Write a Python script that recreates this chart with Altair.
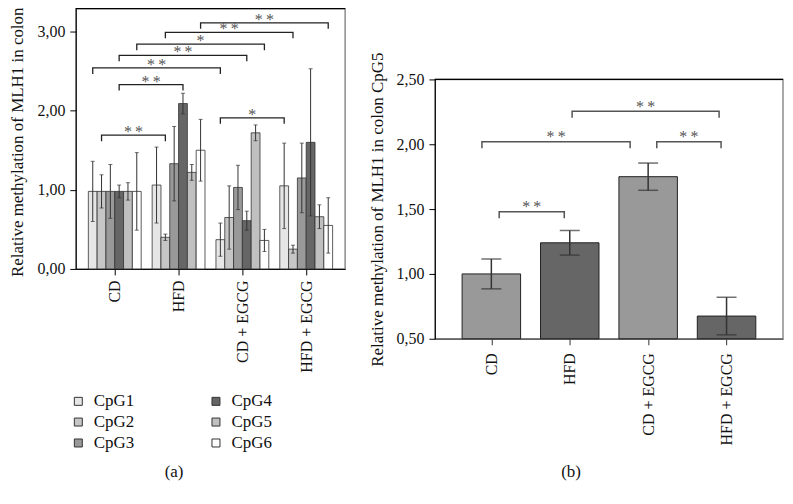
import json
import altair as alt
import pandas as pd

# ---------------- data ----------------
groups = ["CD", "HFD", "CD + EGCG", "HFD + EGCG"]
cpg_sites = ["CpG1", "CpG2", "CpG3", "CpG4", "CpG5", "CpG6"]

# panel (a): relative methylation per CpG site
mean_cd = [0.98, 0.98, 0.98, 0.98, 0.98, 0.98]
mean_hfd = [1.06, 0.40, 1.33, 2.09, 1.22, 1.50]
mean_cd_egcg = [0.37, 0.65, 1.03, 0.61, 1.72, 0.36]
mean_hfd_egcg = [1.05, 0.25, 1.15, 1.60, 0.66, 0.55]
err_cd = [0.38, 0.21, 0.34, 0.08, 0.11, 0.49]
err_hfd = [0.48, 0.04, 0.47, 0.13, 0.10, 0.39]
err_cd_egcg = [0.21, 0.40, 0.28, 0.12, 0.10, 0.14]
err_hfd_egcg = [0.54, 0.05, 0.44, 0.93, 0.15, 0.35]

# panel (a) significance brackets
sig_a_left_group = ["HFD", "HFD", "CD", "CD", "CD", "CD", "CD", "CD + EGCG"]
sig_a_right_group = ["HFD + EGCG", "HFD + EGCG", "CD + EGCG", "CD + EGCG",
                     "CD + EGCG", "HFD", "HFD", "HFD + EGCG"]
sig_a_site = ["CpG6", "CpG2", "CpG6", "CpG4", "CpG1", "CpG4", "CpG2", "CpG1"]
sig_a_height = [3.11, 2.99, 2.84, 2.70, 2.54, 2.33, 1.69, 1.91]
sig_a_label = ["**", "**", "*", "**", "**", "**", "**", "*"]

# panel (b): CpG5
mean_b = [1.00, 1.24, 1.75, 0.675]
err_b = [0.115, 0.095, 0.105, 0.145]

# panel (b) significance brackets (ends in category units)
sig_b_left = [0.10, -0.12, 1.03, 2.11]
sig_b_right = [0.93, 1.77, 2.905, 2.93]
sig_b_height = [1.48, 2.02, 2.255, 2.02]
sig_b_label = ["**", "**", "**", "**"]

# ---------------- styling ----------------
FONT = "Liberation Serif"
site_colors = ["#e6e6e6", "#c6c6c6", "#999999", "#666666", "#c0c0c0", "#ffffff"]
BAR_W = 0.138          # width of one CpG bar in category units (panel a)
TICK_A = 0.076         # bracket end depth (panel a)
TICK_B = 0.05          # bracket end depth (panel b)
HALF_B = 0.373         # half bar width (panel b)
STAR_SEP = "\u2009"


def star_text(s):
    return STAR_SEP.join(list(s))


# ---------------- tables ----------------
means_a = [mean_cd, mean_hfd, mean_cd_egcg, mean_hfd_egcg]
errs_a = [err_cd, err_hfd, err_cd_egcg, err_hfd_egcg]
rows = []
for gi, g in enumerate(groups):
    for ci, s in enumerate(cpg_sites):
        m, e = means_a[gi][ci], errs_a[gi][ci]
        xc = gi + (ci - 2.5) * BAR_W
        rows.append(dict(group=g, site=s, mean=m, lo=m - e, hi=m + e,
                         xc=xc, x0=xc - BAR_W / 2, x1=xc + BAR_W / 2))
df_a = pd.DataFrame(rows)


def pos_a(g, s):
    return groups.index(g) + (cpg_sites.index(s) - 2.5) * BAR_W


br_rows, star_rows = [], []
for i in range(len(sig_a_height)):
    xl = pos_a(sig_a_left_group[i], sig_a_site[i])
    xr = pos_a(sig_a_right_group[i], sig_a_site[i])
    h = sig_a_height[i]
    for k, (xx, yy) in enumerate([(xl, h - TICK_A), (xl, h), (xr, h), (xr, h - TICK_A)]):
        br_rows.append(dict(id=i, k=k, bx=xx, by=yy))
    star_rows.append(dict(mx=(xl + xr) / 2, my=h, label=star_text(sig_a_label[i])))
df_br_a = pd.DataFrame(br_rows)
df_star_a = pd.DataFrame(star_rows)

df_b = pd.DataFrame(dict(group=groups, pos=list(range(len(groups))), mean=mean_b,
                         lo=[m - e for m, e in zip(mean_b, err_b)],
                         hi=[m + e for m, e in zip(mean_b, err_b)]))
df_b["x0"] = df_b["pos"] - HALF_B
df_b["x1"] = df_b["pos"] + HALF_B

br_rows, star_rows = [], []
for i in range(len(sig_b_height)):
    xl, xr, h = sig_b_left[i], sig_b_right[i], sig_b_height[i]
    for k, (xx, yy) in enumerate([(xl, h - TICK_B), (xl, h), (xr, h), (xr, h - TICK_B)]):
        br_rows.append(dict(id=i, k=k, bx=xx, by=yy))
    star_rows.append(dict(mx=(xl + xr) / 2, my=h, label=star_text(sig_b_label[i])))
df_br_b = pd.DataFrame(br_rows)
df_star_b = pd.DataFrame(star_rows)

one = pd.DataFrame({"a": [0]})

comma_fmt = "replace(format(datum.value, '.2f'), '.', ',')"
names_expr = json.dumps(groups) + "[datum.value]"

# ---------------- panel (a) ----------------
WA, HA = 270, 261
xa = alt.Scale(domain=[-0.61, 3.61], nice=False, zero=False)
ya = alt.Scale(domain=[0, 3.29], nice=False)

x_axis_a = alt.Axis(values=[0, 1, 2, 3], labelExpr=names_expr, labelAngle=270,
                    title="(a)", titleX=98, titleY=203, titleBaseline="middle",
                    titleFontSize=17, titleFontWeight="normal",
                    tickSize=6, grid=False, labelFontSize=16,
                    labelPadding=5, domainColor="#000", tickColor="#000")
y_axis_a = alt.Axis(values=[0, 1, 2, 3], labelExpr=comma_fmt, grid=False,
                    title="Relative methylation of MLH1 in colon", tickSize=6,
                    titleY=HA / 2 + 3,
                    labelFontSize=16, titleFontSize=17, titleFontWeight="normal",
                    labelPadding=5, titlePadding=10, domainColor="#000",
                    tickColor="#000")

bars_a = alt.Chart(df_a).mark_bar(stroke="#333", strokeWidth=0.8).encode(
    x=alt.X("x0:Q", scale=xa, axis=x_axis_a),
    x2="x1:Q",
    y=alt.Y("mean:Q", scale=ya, axis=y_axis_a),
    y2=alt.datum(0),
    color=alt.Color("site:N",
                    scale=alt.Scale(domain=cpg_sites, range=site_colors),
                    legend=alt.Legend(title=None, orient="none", legendX=-6,
                                      legendY=385, columns=2, columnPadding=73,
                                      rowPadding=3, padding=0, symbolType="square",
                                      symbolSize=64, symbolStrokeColor="#333",
                                      symbolStrokeWidth=1, labelFontSize=17,
                                      labelFont=FONT, labelOffset=7,
                                      labelColor="#111")),
)
err_a = alt.Chart(df_a).mark_rule(color="#333", strokeWidth=1).encode(
    x="xc:Q", y="lo:Q", y2="hi:Q")
cap_lo_a = alt.Chart(df_a).mark_tick(orient="horizontal", size=4, thickness=1,
                                     color="#333").encode(x="xc:Q", y="lo:Q")
cap_hi_a = alt.Chart(df_a).mark_tick(orient="horizontal", size=4, thickness=1,
                                     color="#333").encode(x="xc:Q", y="hi:Q")
br_a = alt.Chart(df_br_a).mark_line(color="#222", strokeWidth=1.3).encode(
    x="bx:Q", y="by:Q", detail="id:N", order="k:O")
stars_a = alt.Chart(df_star_a).mark_text(font=FONT, fontSize=16, color="#555",
                                         baseline="alphabetic", dy=2).encode(
    x="mx:Q", y="my:Q", text="label:N")
top_a = alt.Chart(one).mark_rule(color="#000", strokeWidth=1.2).encode(
    x=alt.value(0), x2=alt.value(WA), y=alt.value(0))

panel_a = alt.layer(bars_a, err_a, cap_lo_a, cap_hi_a, br_a, stars_a, top_a).properties(
    width=WA, height=HA)

# ---------------- panel (b) ----------------
WB, HB = 349, 260
xb = alt.Scale(domain=[-0.72, 3.72], nice=False, zero=False)
yb = alt.Scale(domain=[0.5, 2.5], nice=False, zero=False)

x_axis_b = alt.Axis(values=[0, 1, 2, 3], labelExpr=names_expr, labelAngle=270,
                    title="(b)", titleX=136, titleY=133, titleBaseline="middle",
                    titleFontSize=17, titleFontWeight="normal",
                    tickSize=6, grid=False, labelFontSize=16,
                    labelPadding=8, domainColor="#444", tickColor="#333")
y_axis_b = alt.Axis(values=[0.5, 1.0, 1.5, 2.0, 2.5], labelExpr=comma_fmt,
                    grid=False, title="Relative methylation of MLH1 in colon CpG5",
                    tickSize=6, labelFontSize=16, titleFontSize=17,
                    titleFontWeight="normal", labelPadding=5, titlePadding=10,
                    domainColor="#000", tickColor="#000")

bars_b = alt.Chart(df_b).mark_bar(stroke="#222", strokeWidth=1).encode(
    x=alt.X("x0:Q", scale=xb, axis=x_axis_b),
    x2="x1:Q",
    y=alt.Y("mean:Q", scale=yb, axis=y_axis_b),
    y2=alt.datum(0.5),
    color=alt.Color("group:N", scale=alt.Scale(domain=groups,
                    range=["#999999", "#666666", "#999999", "#666666"]), legend=None),
)
err_b_rule = alt.Chart(df_b).mark_rule(color="#333", strokeWidth=1.5).encode(
    x="pos:Q", y="lo:Q", y2="hi:Q")
cap_lo_b = alt.Chart(df_b).mark_tick(orient="horizontal", size=20, thickness=1.5,
                                     color="#333").encode(x="pos:Q", y="lo:Q")
cap_hi_b = alt.Chart(df_b).mark_tick(orient="horizontal", size=20, thickness=1.5,
                                     color="#333").encode(x="pos:Q", y="hi:Q")
br_b = alt.Chart(df_br_b).mark_line(color="#555", strokeWidth=1.5).encode(
    x="bx:Q", y="by:Q", detail="id:N", order="k:O")
stars_b = alt.Chart(df_star_b).mark_text(font=FONT, fontSize=16, color="#555",
                                         baseline="alphabetic", dy=0.5).encode(
    x="mx:Q", y="my:Q", text="label:N")
top_b = alt.Chart(one).mark_rule(color="#000", strokeWidth=1.2).encode(
    x=alt.value(0), x2=alt.value(WB), y=alt.value(0))

panel_b = alt.layer(bars_b, err_b_rule, cap_lo_b, cap_hi_b, br_b, stars_b, top_b).properties(
    width=WB, height=HB)

# transparent spacer that lowers panel (b) relative to panel (a)
spacer_b = alt.Chart(one).mark_point(opacity=0, size=1).encode(
    x=alt.value(100), y=alt.value(35)
).properties(width=WB, height=71, view=alt.ViewBackground(strokeOpacity=0))

column_b = alt.vconcat(spacer_b, panel_b, spacing=0, bounds="flush")

chart = alt.hconcat(panel_a, column_b, spacing=20).resolve_scale(
    color="independent"
).properties(
    padding={"top": -3, "left": 0, "right": 0, "bottom": 0}, background="white"
).configure(font=FONT).configure_view(
    stroke="#8c8c8c", strokeWidth=1.5
).configure_axis(labelFont=FONT, titleFont=FONT, labelColor="#111", titleColor="#111")

chart.save("out.html", embed_options={"renderer": "svg", "actions": False})
